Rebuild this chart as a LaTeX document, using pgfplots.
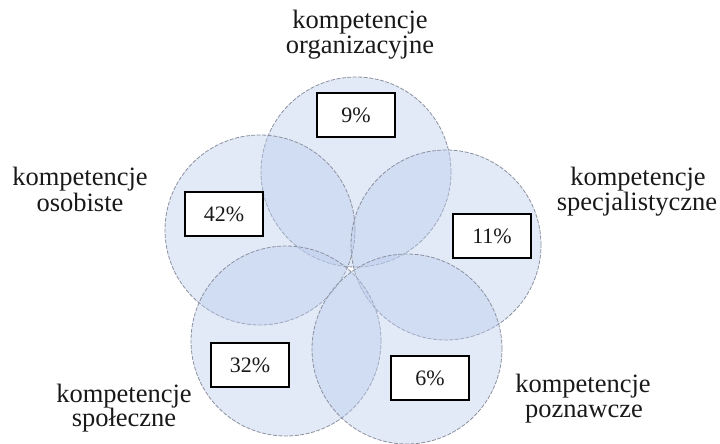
\documentclass[border=0pt]{standalone}
\usepackage{fontspec}
\setmainfont{Liberation Serif}
\usepackage{pgfplots}
\pgfplotsset{compat=1.18}

\definecolor{circfill}{RGB}{186,203,236}
\definecolor{circedge}{RGB}{140,145,160}
\definecolor{txt}{RGB}{25,25,25}

\begin{document}
\begin{tikzpicture}
  \begin{axis}[
      scale only axis,
      width=720pt, height=444pt,
      xmin=0, xmax=720,
      ymin=0, ymax=444,
      y dir=reverse,
      hide axis,
      clip=false,
    ]
    % five circles (centres in picture pixels, radius 95)
    \addplot[only marks, mark=*, mark size=95pt,
      mark options={fill=circfill, fill opacity=0.42,
        draw=circedge, line width=0.8pt, dash pattern=on 4pt off 1.5pt}]
      coordinates {
        (356,172)
        (260,230)
        (446,245)
        (286,341)
        (407,349)
      };

    % percentage boxes
    \addplot[only marks, mark=none,
      nodes near coords, point meta=explicit symbolic,
      every node near coord/.style={draw=black, line width=1.5pt, fill=white,
        anchor=center, minimum width=78pt, minimum height=44pt,
        inner sep=0pt, text=txt, font=\fontsize{22}{24}\selectfont}]
      table[meta=label] {
        x   y   label
        356 115 9\%
        224 214 42\%
        492 236 11\%
        250 365 32\%
        430 378 6\%
      };

    % category labels
    \begin{scope}[every node/.style={anchor=base, text=txt,
        font=\fontsize{26.5}{26}\selectfont, inner sep=0pt}]
      \node at (axis cs:360,29)  {kompetencje};
      \node at (axis cs:360,53)  {organizacyjne};
      \node at (axis cs:80,185)  {kompetencje};
      \node at (axis cs:80,211)  {osobiste};
      \node at (axis cs:638,185) {kompetencje};
      \node at (axis cs:637,210) {specjalistyczne};
      \node at (axis cs:124,402) {kompetencje};
      \node at (axis cs:124,426) {społeczne};
      \node at (axis cs:583,392) {kompetencje};
      \node at (axis cs:584,417) {poznawcze};
    \end{scope}
    \path (rel axis cs:0,0) rectangle (rel axis cs:1,1);
  \end{axis}
\end{tikzpicture}
\end{document}
